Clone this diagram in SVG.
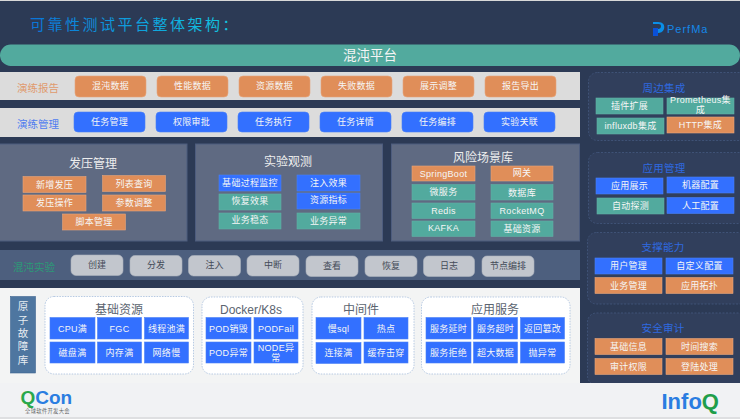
<svg xmlns="http://www.w3.org/2000/svg" width="740" height="419" viewBox="0 0 740 419">
<style>
text{font-family:"Liberation Sans","Noto Sans CJK SC",sans-serif;text-anchor:middle}
.w{fill:#f6f6f6;font-size:9px;letter-spacing:.3px}
.o{fill:#e08e59;stroke:#e6a67c;stroke-width:.6}
.b{fill:#3370ff;stroke:#4a80f5;stroke-width:.6}
.g{fill:#52aa9e;stroke:#62b0a6;stroke-width:.6}
.p{fill:#5f6a82;stroke:#4d5c7e}
.pt{fill:#eee;font-size:12px}
.r{fill:#313f5c;stroke:#44587e;stroke-width:.8;stroke-dasharray:2 1.5}
.rt{fill:#2f6ae0;font-size:10.5px;letter-spacing:.2px}
.c{fill:#c2c6cd;stroke:#adb3be;stroke-width:.6}
.ct{fill:#444b58;font-size:9px}
.f{fill:#fff;stroke:#a6bedd;stroke-width:.8;stroke-dasharray:1.5 1.2}
.ft{fill:#5b6470;font-size:12px}
</style>
<defs><linearGradient id="tg" gradientUnits="userSpaceOnUse" x1="30" y1="0" x2="225" y2="0"><stop offset="0" stop-color="#0a74d8"/><stop offset="1" stop-color="#12c4e0"/></linearGradient></defs>
<rect width="740" height="419" fill="#2c3a55"/>
<rect width="740" height="1" fill="#d8d8d8"/>
<g id="title"><text x="30" y="29.500" font-size="15" letter-spacing="2.500" style="text-anchor:start" fill="url(#tg)">可靠性测试平台整体架构：</text></g>
<g id="logo-perfma"><path d="M653 22h5c5 0 7 3 6 7-1 3-4 4-6 4v-4c2 0 3-1 3-3s-2-2-4-2h-4z" fill="#0a8fe8"/><rect x="653" y="28" width="5" height="8" fill="#0a50d8"/><text x="667" y="33" font-size="11" letter-spacing="1" style="text-anchor:start" fill="#1488e8">PerfMa</text></g>
<g id="platform"><rect x="0" y="44.500" width="740" height="21.500" rx="10.700" fill="#52aa9e"/><text x="370" y="60" font-size="13.500" fill="#f4f4f4">混沌平台</text></g>

<g id="report"><rect x="0" y="72" width="580" height="28" fill="#dcdcdc"/><text x="38" y="92" font-size="10.500" fill="#e09a6d">演练报告</text>
<rect class="o" x="75" y="76" width="71" height="21" rx="4"/><text class="w" x="110.500" y="89">混沌数据</text>
<rect class="o" x="157" y="76" width="71" height="21" rx="4"/><text class="w" x="192.500" y="89">性能数据</text>
<rect class="o" x="239" y="76" width="71" height="21" rx="4"/><text class="w" x="274.500" y="89">资源数据</text>
<rect class="o" x="321" y="76" width="71" height="21" rx="4"/><text class="w" x="356.500" y="89">失败数据</text>
<rect class="o" x="403" y="76" width="71" height="21" rx="4"/><text class="w" x="438.500" y="89">展示调整</text>
<rect class="o" x="485" y="76" width="71" height="21" rx="4"/><text class="w" x="520.500" y="89">报告导出</text></g>

<g id="manage"><rect x="0" y="108" width="580" height="29" fill="#dcdcdc"/><text x="38" y="128" font-size="10.500" fill="#4f7cf0">演练管理</text>
<rect class="b" x="74" y="112" width="71" height="20" rx="4"/><text class="w" x="109.500" y="125">任务管理</text>
<rect class="b" x="156" y="112" width="71" height="20" rx="4"/><text class="w" x="191.500" y="125">权限审批</text>
<rect class="b" x="238" y="112" width="71" height="20" rx="4"/><text class="w" x="273.500" y="125">任务执行</text>
<rect class="b" x="320" y="112" width="71" height="20" rx="4"/><text class="w" x="355.500" y="125">任务详情</text>
<rect class="b" x="402" y="112" width="71" height="20" rx="4"/><text class="w" x="437.500" y="125">任务编排</text>
<rect class="b" x="484" y="112" width="71" height="20" rx="4"/><text class="w" x="519.500" y="125">实验关联</text></g>

<g id="pressure"><rect class="p" x="-1" y="144" width="188" height="97"/><text class="pt" x="93" y="168">发压管理</text>
<rect class="o" x="23" y="176.500" width="63" height="16"/><text class="w" x="54.500" y="187.500">新增发压</text>
<rect class="o" x="102.500" y="175.500" width="63" height="16"/><text class="w" x="134" y="186.500">列表查询</text>
<rect class="o" x="23" y="195" width="63" height="16"/><text class="w" x="54.500" y="205.500">发压操作</text>
<rect class="o" x="102.500" y="195" width="63" height="16"/><text class="w" x="134" y="205.500">参数调整</text>
<rect class="o" x="62.500" y="214" width="63" height="16"/><text class="w" x="94" y="224.500">脚本管理</text></g>

<g id="observe"><rect class="p" x="195.500" y="144" width="187" height="97"/><text class="pt" x="288" y="166">实验观测</text>
<rect class="b" x="219" y="175" width="62" height="16"/><text class="w" x="250" y="185.500">基础过程监控</text>
<rect class="b" x="297" y="175" width="63" height="16"/><text class="w" x="328.500" y="185.500">注入效果</text>
<rect class="g" x="219" y="194" width="62" height="16"/><text class="w" x="250" y="204">恢复效果</text>
<rect class="b" x="297" y="193" width="63" height="16"/><text class="w" x="328.500" y="203">资源指标</text>
<rect class="g" x="219" y="213" width="62" height="16"/><text class="w" x="250" y="222.500">业务稳态</text>
<rect class="g" x="297" y="213" width="63" height="16"/><text class="w" x="328.500" y="223.500">业务异常</text></g>

<g id="risk"><rect class="p" x="391.500" y="144" width="188" height="97"/><text class="pt" x="483" y="162">风险场景库</text>
<rect class="o" x="412" y="166" width="63" height="15"/><text class="w" x="443.500" y="177">SpringBoot</text>
<rect class="o" x="491" y="166" width="62" height="15"/><text class="w" x="522" y="176">网关</text>
<rect class="g" x="412" y="184.500" width="63" height="15.500"/><text class="w" x="443.500" y="195">微服务</text>
<rect class="g" x="491" y="184.500" width="62" height="15.500"/><text class="w" x="522" y="195.500">数据库</text>
<rect class="g" x="412" y="203" width="63" height="15.500"/><text class="w" x="443.500" y="213.500">Redis</text>
<rect class="g" x="491" y="203" width="62" height="15.500"/><text class="w" x="522" y="213.500">RocketMQ</text>
<rect class="g" x="412" y="221" width="63" height="15.500"/><text class="w" x="443.500" y="231">KAFKA</text>
<rect class="g" x="491" y="221" width="62" height="15.500"/><text class="w" x="522" y="231.500">基础资源</text></g>

<g id="chaos"><rect x="0" y="250" width="580" height="30" fill="#4d5f7e"/><text x="34" y="270.500" font-size="10.500" fill="#2c9a77">混沌实验</text>
<rect class="c" x="71" y="255" width="52" height="20.500" rx="5"/><text class="ct" x="97" y="268">创建</text>
<rect class="c" x="130" y="255.500" width="52" height="20.500" rx="5"/><text class="ct" x="156" y="268">分发</text>
<rect class="c" x="188.500" y="255.500" width="52" height="20.500" rx="5"/><text class="ct" x="214.500" y="268">注入</text>
<rect class="c" x="247" y="255.500" width="52" height="20.500" rx="5"/><text class="ct" x="273" y="268">中断</text>
<rect class="c" x="306" y="256" width="52" height="20.500" rx="5"/><text class="ct" x="332" y="269">查看</text>
<rect class="c" x="365" y="256" width="52" height="20.500" rx="5"/><text class="ct" x="391" y="269">恢复</text>
<rect class="c" x="423.500" y="256" width="51" height="20.500" rx="5"/><text class="ct" x="449" y="269">日志</text>
<rect class="c" x="482" y="256" width="52" height="20.500" rx="5"/><text class="ct" x="508" y="269">节点编排</text></g>

<g id="atomic"><rect x="0" y="288" width="580" height="95" fill="#f3f4f4"/><rect x="10.500" y="296.500" width="25" height="76.500" fill="#4e76a0" stroke="#3f6590" stroke-width=".6"/>
<text x="23" y="310" font-size="10.500" fill="#e8edf2">原</text><text x="23" y="324" font-size="10.500" fill="#e8edf2">子</text><text x="23" y="337" font-size="10.500" fill="#e8edf2">故</text><text x="23" y="350" font-size="10.500" fill="#e8edf2">障</text><text x="23" y="364" font-size="10.500" fill="#e8edf2">库</text></g>

<g id="fault-base"><rect class="f" x="45" y="296.500" width="148.500" height="77.500" rx="9"/><text class="ft" x="119" y="314">基础资源</text>
<rect class="b" x="50" y="317.500" width="45" height="21.500"/><text class="w" x="72.500" y="331.500">CPU满</text>
<rect class="b" x="97.500" y="317.500" width="44" height="21.500"/><text class="w" x="119.500" y="331.500">FGC</text>
<rect class="b" x="144.500" y="317.500" width="44" height="21.500"/><text class="w" x="166.500" y="331.500">线程池满</text>
<rect class="b" x="50" y="342" width="45" height="21"/><text class="w" x="72.500" y="355.500">磁盘满</text>
<rect class="b" x="97.500" y="342" width="44" height="21"/><text class="w" x="119.500" y="355.500">内存满</text>
<rect class="b" x="144.500" y="342" width="44" height="21"/><text class="w" x="166.500" y="355.500">网络慢</text></g>

<g id="fault-docker"><rect class="f" x="202" y="297" width="101" height="77" rx="9"/><text class="ft" x="251" y="314">Docker/K8s</text>
<rect class="b" x="206" y="317.500" width="45" height="21.500"/><text class="w" x="228.500" y="331.500">POD销毁</text>
<rect class="b" x="254" y="317.500" width="44" height="21.500"/><text class="w" x="276" y="331.500">PODFail</text>
<rect class="b" x="206" y="342" width="45" height="21"/><text class="w" x="228.500" y="355.500">POD异常</text>
<rect class="b" x="254" y="342" width="44" height="21"/><text class="w" x="276" y="350.500">NODE异</text><text class="w" x="276" y="361">常</text></g>

<g id="fault-mid"><rect class="f" x="312" y="297" width="102" height="77" rx="9"/><text class="ft" x="361" y="314">中间件</text>
<rect class="b" x="316" y="317.500" width="45" height="21.500"/><text class="w" x="338.500" y="331.500">慢sql</text>
<rect class="b" x="364" y="317.500" width="44" height="21.500"/><text class="w" x="386" y="331.500">热点</text>
<rect class="b" x="316" y="342.500" width="45" height="21"/><text class="w" x="338.500" y="355.500">连接满</text>
<rect class="b" x="364" y="342" width="44" height="21"/><text class="w" x="386" y="355.500">缓存击穿</text></g>

<g id="fault-app"><rect class="f" x="421.500" y="297" width="148.500" height="77" rx="9"/><text class="ft" x="495" y="314">应用服务</text>
<rect class="b" x="426" y="317.500" width="45" height="21.500"/><text class="w" x="448.500" y="331.500">服务延时</text>
<rect class="b" x="473.500" y="317.500" width="44" height="21.500"/><text class="w" x="495.500" y="331.500">服务超时</text>
<rect class="b" x="520.500" y="317.500" width="44" height="21.500"/><text class="w" x="542.500" y="331.500">返回篡改</text>
<rect class="b" x="426" y="342" width="45" height="21"/><text class="w" x="448.500" y="355.500">服务拒绝</text>
<rect class="b" x="473.500" y="342" width="44" height="21"/><text class="w" x="495.500" y="355.500">超大数据</text>
<rect class="b" x="520.500" y="342" width="44" height="21"/><text class="w" x="542.500" y="355.500">抛异常</text></g>

<g id="side-integration"><rect class="r" x="588.500" y="72.500" width="160" height="68" rx="9"/><text class="rt" x="664" y="92">周边集成</text>
<rect class="g" x="596" y="98" width="67" height="16"/><text class="w" x="629.500" y="109">插件扩展</text>
<rect class="g" x="667" y="98" width="67" height="16"/><text class="w" x="700.500" y="103">Prometheus集</text><text class="w" x="700.500" y="113">成</text>
<rect class="g" x="597" y="118" width="67" height="16"/><text class="w" x="630.500" y="129">influxdb集成</text>
<rect class="o" x="667" y="117" width="67" height="16"/><text class="w" x="700.500" y="128">HTTP集成</text></g>

<g id="side-app"><rect class="r" x="588.500" y="152.500" width="160" height="71" rx="9"/><text class="rt" x="664" y="172">应用管理</text>
<rect class="b" x="596" y="178" width="67" height="16"/><text class="w" x="629.500" y="189">应用展示</text>
<rect class="b" x="667" y="177" width="67" height="16"/><text class="w" x="700.500" y="188">机器配置</text>
<rect class="g" x="597" y="198" width="67" height="16"/><text class="w" x="630.500" y="208.500">自动探测</text>
<rect class="b" x="667" y="197.500" width="67" height="16"/><text class="w" x="700.500" y="208.500">人工配置</text></g>

<g id="side-support"><rect class="r" x="587.500" y="232.500" width="160" height="71.500" rx="9"/><text class="rt" x="663" y="251">支撑能力</text>
<rect class="b" x="595" y="258" width="67" height="16"/><text class="w" x="628.500" y="269">用户管理</text>
<rect class="b" x="666" y="258" width="67" height="16"/><text class="w" x="699.500" y="269">自定义配置</text>
<rect class="o" x="595" y="277.500" width="67" height="16"/><text class="w" x="628.500" y="288.500">业务管理</text>
<rect class="o" x="666" y="277.500" width="67" height="16"/><text class="w" x="699.500" y="288.500">应用拓扑</text></g>

<g id="side-audit"><rect class="r" x="587.500" y="313" width="160" height="72" rx="9"/><text class="rt" x="663" y="331.500">安全审计</text>
<rect class="o" x="595" y="338.500" width="67" height="16"/><text class="w" x="628.500" y="349.500">基础信息</text>
<rect class="o" x="666" y="338.500" width="67" height="16"/><text class="w" x="699.500" y="349.500">时间搜索</text>
<rect class="o" x="595" y="358.500" width="67" height="16"/><text class="w" x="628.500" y="369.500">审计权限</text>
<rect class="o" x="666" y="358.500" width="67" height="16"/><text class="w" x="699.500" y="369.500">登陆处理</text></g>

<g id="footer"><rect x="0" y="383" width="740" height="34" fill="#f1f2f4"/><rect x="0" y="417" width="740" height="2" fill="#dedfe1"/>
<text x="20.500" y="404" font-size="19" font-weight="700" style="text-anchor:start"><tspan fill="#2aa84a">Q</tspan><tspan fill="#2a7de1">Con</tspan></text>
<text x="47.500" y="413" font-size="5.300" fill="#666" letter-spacing=".3">全球软件开发大会</text>
<text x="661.500" y="409" font-size="22" font-weight="700" style="text-anchor:start"><tspan fill="#2a7de1">Info</tspan><tspan fill="#1f9e4a">Q</tspan></text></g>
</svg>
